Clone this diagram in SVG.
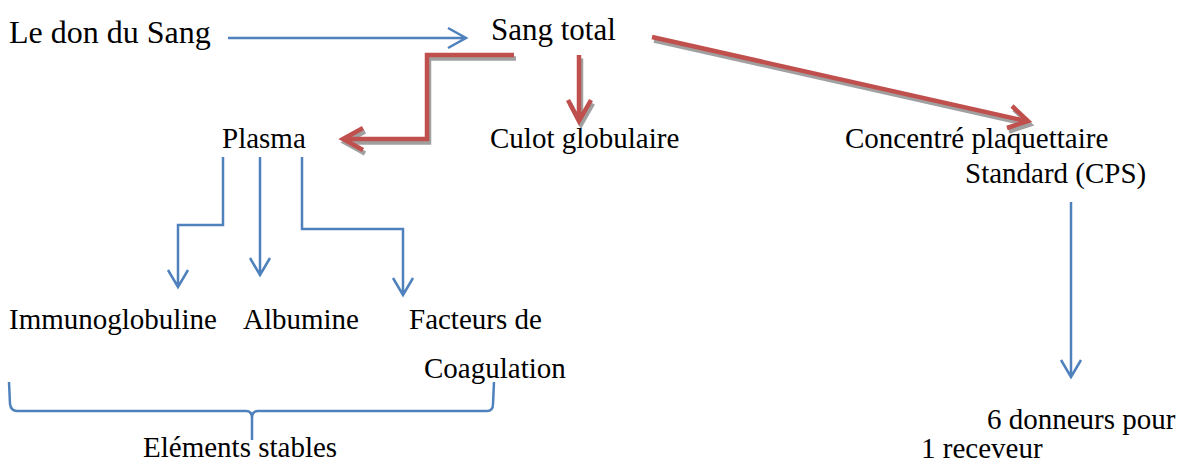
<svg xmlns="http://www.w3.org/2000/svg" width="1179" height="464" viewBox="0 0 1179 464">
<style>
text{font-family:"Liberation Serif","Times New Roman",serif;font-size:29px;fill:#000}
.b{fill:none;stroke:#4F81BD;stroke-width:2.5;stroke-linejoin:miter}
.r{fill:none;stroke:#C0504D;stroke-width:4.5;stroke-linejoin:miter}
.s{fill:none;stroke:#A0A0A0;stroke-width:4.5;stroke-linejoin:miter}
</style>
<rect width="1179" height="464" fill="#fff"/>
<g id="connectors">
<g transform="translate(2,3.5)">
<path class="s" d="M514,55 L427,55 L427,139 L344,139 M363,128 L343,139 L363,150"/>
<path class="s" d="M579,55 L579,120 M568,100 L579,121 L591,100"/>
<path class="s" d="M652,37 L1026,121 M1012,106 L1028,121 L1007,128"/>
</g>
<path class="r" d="M514,55 L427,55 L427,139 L344,139 M363,128 L343,139 L363,150"/>
<path class="r" d="M579,55 L579,120 M568,100 L579,121 L591,100"/>
<path class="r" d="M652,37 L1026,121 M1012,106 L1028,121 L1007,128"/>
<path class="b" d="M228,38 L466,38 M448,28 L466,38 L448,48"/>
<path class="b" d="M223,157 L223,225 L178,225 L178,287 M168,270 L178,287 L188,270"/>
<path class="b" d="M260,157 L260,275 M250,258 L260,275 L270,258"/>
<path class="b" d="M302,157 L302,229 L403,229 L403,295 M393,278 L403,295 L413,278"/>
<path class="b" d="M1071,202 L1071,377 M1061,360 L1071,377 L1081,360"/>
<path class="b" d="M9,382 L10,404 Q11,411 17,411 L246,411 Q252,411 252,418 L252,440 M252,418 Q252,411 258,411 L487,411 Q493,411 493,404 L494,382"/>
</g>
<g id="don"><text x="9" y="43" style="font-size:32px">Le don du Sang</text></g>
<g id="sang"><text x="491" y="40" style="font-size:31px">Sang total</text></g>
<g id="plasma"><text x="222" y="148">Plasma</text></g>
<g id="culot"><text x="490" y="148">Culot globulaire</text></g>
<g id="cps"><text x="845" y="148">Concentré plaquettaire</text><text x="965" y="183">Standard (CPS)</text></g>
<g id="immuno"><text x="9" y="329">Immunoglobuline</text></g>
<g id="albumine"><text x="243" y="329">Albumine</text></g>
<g id="facteurs"><text x="409" y="329">Facteurs de</text><text x="424" y="378">Coagulation</text></g>
<g id="stables"><text x="143" y="457">Eléments stables</text></g>
<g id="donneurs"><text x="987" y="429">6 donneurs pour</text><text x="921" y="458">1 receveur</text></g>
</svg>
